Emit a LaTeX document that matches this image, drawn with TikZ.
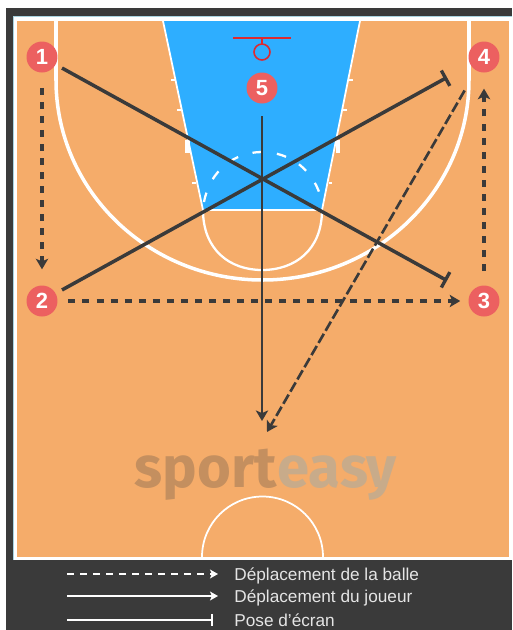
\documentclass[tikz,border=0pt]{standalone}
\usepackage{fontspec}
\usepackage{xcolor}
\setmainfont{Liberation Sans}
\newfontfamily\logofont{Fira Sans}
\usetikzlibrary{arrows.meta}
\definecolor{frame}{HTML}{3A3A3A}
\definecolor{court}{HTML}{F5AC6A}
\definecolor{lane}{HTML}{2EAEFF}
\definecolor{player}{HTML}{EC6060}
\definecolor{hoop}{HTML}{DD2A30}
\definecolor{edge}{HTML}{A9D3E0}
\definecolor{logodark}{HTML}{C48F5F}
\definecolor{logolight}{HTML}{C8AB8A}
\tikzset{
 playernode/.style={circle,fill=player,text=white,minimum size=0.62cm,inner sep=0pt,font=\fontsize{12.5}{12.5}\selectfont\bfseries},
 ball/.style={->,frame,line width=1.8pt,dash pattern=on 4pt off 4pt},
 run/.style={->,frame,line width=1.5pt},
 screen/.style={-{Bar[width=10pt,line width=1.9pt]},frame,line width=2pt},
 legendtext/.style={anchor=west,inner sep=0pt,text=white!90!black,font=\fontsize{9.8}{10}\selectfont},
}
\begin{document}
\begin{tikzpicture}[x=0.02cm,y=-0.02cm,>={Stealth[length=6pt,width=7pt,inset=1.5pt]}]
 \useasboundingbox (0,0) rectangle (512,630);
 \fill[white] (0,0) rectangle (512,630);
 \fill[frame] (6,8) rectangle (512,630);
 \fill[white] (13,16) rectangle (512,560);
 \draw[edge,line width=0.4pt] (13,560) -- (13,16) -- (512,16);
 \fill[court] (17,21) rectangle (509,557);
 \fill[lane] (163,21) -- (203,210) -- (322,210) -- (360,21) -- cycle;
 \draw[white,line width=1pt] (163,21) -- (203,210) -- (322,210) -- (360,21);
 \draw[white,line width=1.3pt] (203,210) .. controls (203,250) and (230,270) .. (262,270) .. controls (295,270) and (322,250) .. (322,210);
 \draw[white,line width=2pt] (56,21) -- (56,80) arc[start angle=180,end angle=0,x radius=206.5,y radius=200] -- (469,21);
 \draw[white,line width=1.3pt,dash pattern=on 5.5pt off 8.5pt] (204,202) .. controls (210,170) and (235,152) .. (262,152) .. controls (290,152) and (315,170) .. (322,202);
 \draw[white,line width=1pt] (202,557) arc[start angle=180,end angle=360,radius=60.5];
 \foreach \a/\b/\y in {171/175/80,177/181/110,192/196/183,349/353/80,343/347/110,329/332/183}
  \draw[white,line width=0.9pt] (\a,\y) -- (\b,\y);
 \fill[white] (185,140) rectangle (190,153);
 \fill[white] (336,140) rectangle (340,153);
 \draw[hoop,line width=1.2pt] (233,38) -- (291,38);
 \draw[hoop,line width=0.9pt] (262,38) -- (262,44);
 \draw[hoop,line width=0.9pt] (262,52) circle (8);
 \node[anchor=base east,inner sep=0pt,text=logodark,font=\logofont\fontsize{33}{33}\selectfont\bfseries] (logosport) at (277,487) {sport};
 \node[anchor=base west,inner sep=0pt,text=logolight,font=\logofont\fontsize{33}{33}\selectfont\bfseries] (logoeasy) at (277,487) {easy};
 \node[playernode] (p1) at (42,57) {1};
 \node[playernode] (p2) at (42,301) {2};
 \node[playernode] (p3) at (484,301) {3};
 \node[playernode] (p4) at (484,57) {4};
 \node[playernode] (p5) at (262,88) {5};
 \coordinate (runend) at (262,421);
 \coordinate (ballend) at (267,432);
 \draw[screen,shorten <=4pt,shorten >=15pt] (p1) -- (p3);
 \draw[screen,shorten <=4pt,shorten >=15pt] (p2) -- (p4);
 \draw[run,shorten <=7pt] (p5) -- (runend);
 \draw[ball,shorten <=8.5pt,shorten >=9pt] (p1) -- (p2);
 \draw[ball,shorten <=6pt,shorten >=4.5pt] (p2) -- (p3);
 \draw[ball,shorten <=8pt,shorten >=9pt] (p3) -- (p4);
 \draw[ball,line width=1.5pt,dash pattern=on 6pt off 2pt,shorten <=13pt] (p4) -- (ballend);
 \coordinate (k1a) at (67,574);
 \coordinate (k1b) at (218,574);
 \coordinate (k2a) at (67,596);
 \coordinate (k2b) at (218,596);
 \coordinate (k3a) at (67,620);
 \coordinate (k3b) at (213,620);
 \draw[->,white,line width=1.3pt,dash pattern=on 4pt off 3.4pt,>={Stealth[length=4.5pt,width=5pt,inset=1pt]}] (k1a) -- (k1b);
 \draw[->,white,line width=1.3pt,>={Stealth[length=4.5pt,width=5pt,inset=1pt]}] (k2a) -- (k2b);
 \draw[-{Bar[width=7pt,line width=0.9pt]},white,line width=1.3pt] (k3a) -- (k3b);
 \node[legendtext] (key1) at (234,575.5) {Déplacement de la balle};
 \node[legendtext] (key2) at (234,597.5) {Déplacement du joueur};
 \node[legendtext] (key3) at (234,620.5) {Pose d’écran};
\end{tikzpicture}
\end{document}
